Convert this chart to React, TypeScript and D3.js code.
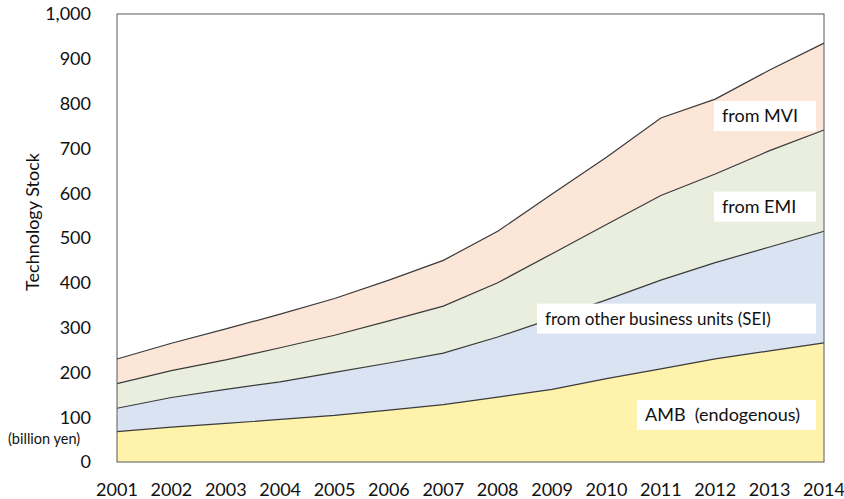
import * as d3 from "d3";

const years = [2001, 2002, 2003, 2004, 2005, 2006, 2007, 2008, 2009, 2010, 2011, 2012, 2013, 2014];

// billion yen, stacked bottom → top
const amb = [68, 78, 86, 95, 104, 116, 128, 145, 162, 186, 208, 230, 248, 266];
const sei = [52, 66, 76, 84, 96, 105, 115, 134, 158, 176, 198, 215, 232, 249];
const emi = [55, 60, 66, 76, 83, 94, 105, 121, 145, 168, 189, 198, 215, 226];
const mvi = [55, 61, 69, 75, 82, 91, 102, 115, 133, 150, 173, 167, 180, 194];

const seriesKeys = ["amb", "sei", "emi", "mvi"];
const seriesColors = ["#FFF2AB", "#DAE3F1", "#E9EEDE", "#FBE6D7"];
const seriesLabels = ["AMB  (endogenous)", "from other business units (SEI)", "from EMI", "from MVI"];
const yTicks = [0, 100, 200, 300, 400, 500, 600, 700, 800, 900, 1000];

const W = 844;
const H = 499;
const margin = { top: 14, right: 20, bottom: 37, left: 117 };
const FONT = "Lato, 'Open Sans', sans-serif";

export default function App() {
  const rows = years.map((y, i) => ({
    year: y,
    amb: amb[i],
    sei: sei[i],
    emi: emi[i],
    mvi: mvi[i],
  }));

  const stacked = d3.stack<any>().keys(seriesKeys)(rows);

  const x = d3
    .scaleLinear()
    .domain([years[0], years[years.length - 1]])
    .range([margin.left, W - margin.right]);

  const y = d3
    .scaleLinear()
    .domain([0, 1000])
    .range([H - margin.bottom, margin.top]);

  const area = d3
    .area<any>()
    .x((d) => x(d.data.year))
    .y0((d) => y(d[0]))
    .y1((d) => y(d[1]));

  const topLine = d3
    .line<any>()
    .x((d) => x(d.data.year))
    .y((d) => y(d[1]));

  // label boxes: left edge and value at box centre, per series
  const labelBoxes = [
    { x0: 637, v: 105 },
    { x0: 537, v: 320 },
    { x0: 714, v: 570 },
    { x0: 714, v: 772 },
  ];
  const boxRight = 816;

  return (
    <svg
      width={W}
      height={H}
      style={{ position: "absolute", left: 0, top: 0, background: "#fff" }}
      fontFamily={FONT}
    >
      {stacked.map((s, i) => (
        <path key={s.key} d={area(s) || ""} fill={seriesColors[i]} />
      ))}
      {stacked.map((s) => (
        <path
          key={s.key + "-line"}
          d={topLine(s) || ""}
          fill="none"
          stroke="#3a3a3a"
          strokeWidth={1.2}
        />
      ))}

      {/* plot border */}
      <rect
        x={margin.left}
        y={margin.top}
        width={W - margin.left - margin.right}
        height={H - margin.top - margin.bottom}
        fill="none"
        stroke="#595959"
        strokeWidth={1}
      />

      {/* series labels */}
      {labelBoxes.map((b, i) => (
        <g key={seriesLabels[i]}>
          <rect
            x={b.x0}
            y={y(b.v) - 15}
            width={boxRight - b.x0}
            height={30}
            fill="#fff"
          />
          <text
            x={b.x0 + 8}
            y={y(b.v)}
            dy="0.35em"
            fontSize={i === 1 ? 17 : 18}
            fill="#111"
            style={{ whiteSpace: "pre" }}
          >
            {seriesLabels[i]}
          </text>
        </g>
      ))}

      {/* y axis labels */}
      {yTicks.map((t) => (
        <text
          key={t}
          x={margin.left - 26}
          y={y(t)}
          dy="0.35em"
          textAnchor="end"
          fontSize={18}
          fill="#111"
        >
          {d3.format(",")(t)}
        </text>
      ))}

      {/* x axis labels */}
      {years.map((yr) => (
        <text
          key={yr}
          x={x(yr)}
          y={H - 3}
          textAnchor="middle"
          fontSize={18}
          fill="#111"
        >
          {yr}
        </text>
      ))}

      <text
        transform="translate(39, 222) rotate(-90)"
        textAnchor="middle"
        fontSize={18}
        fill="#111"
      >
        Technology Stock
      </text>
      <text x={8} y={444} fontSize={14.5} fill="#111">
        (billion yen)
      </text>
    </svg>
  );
}
